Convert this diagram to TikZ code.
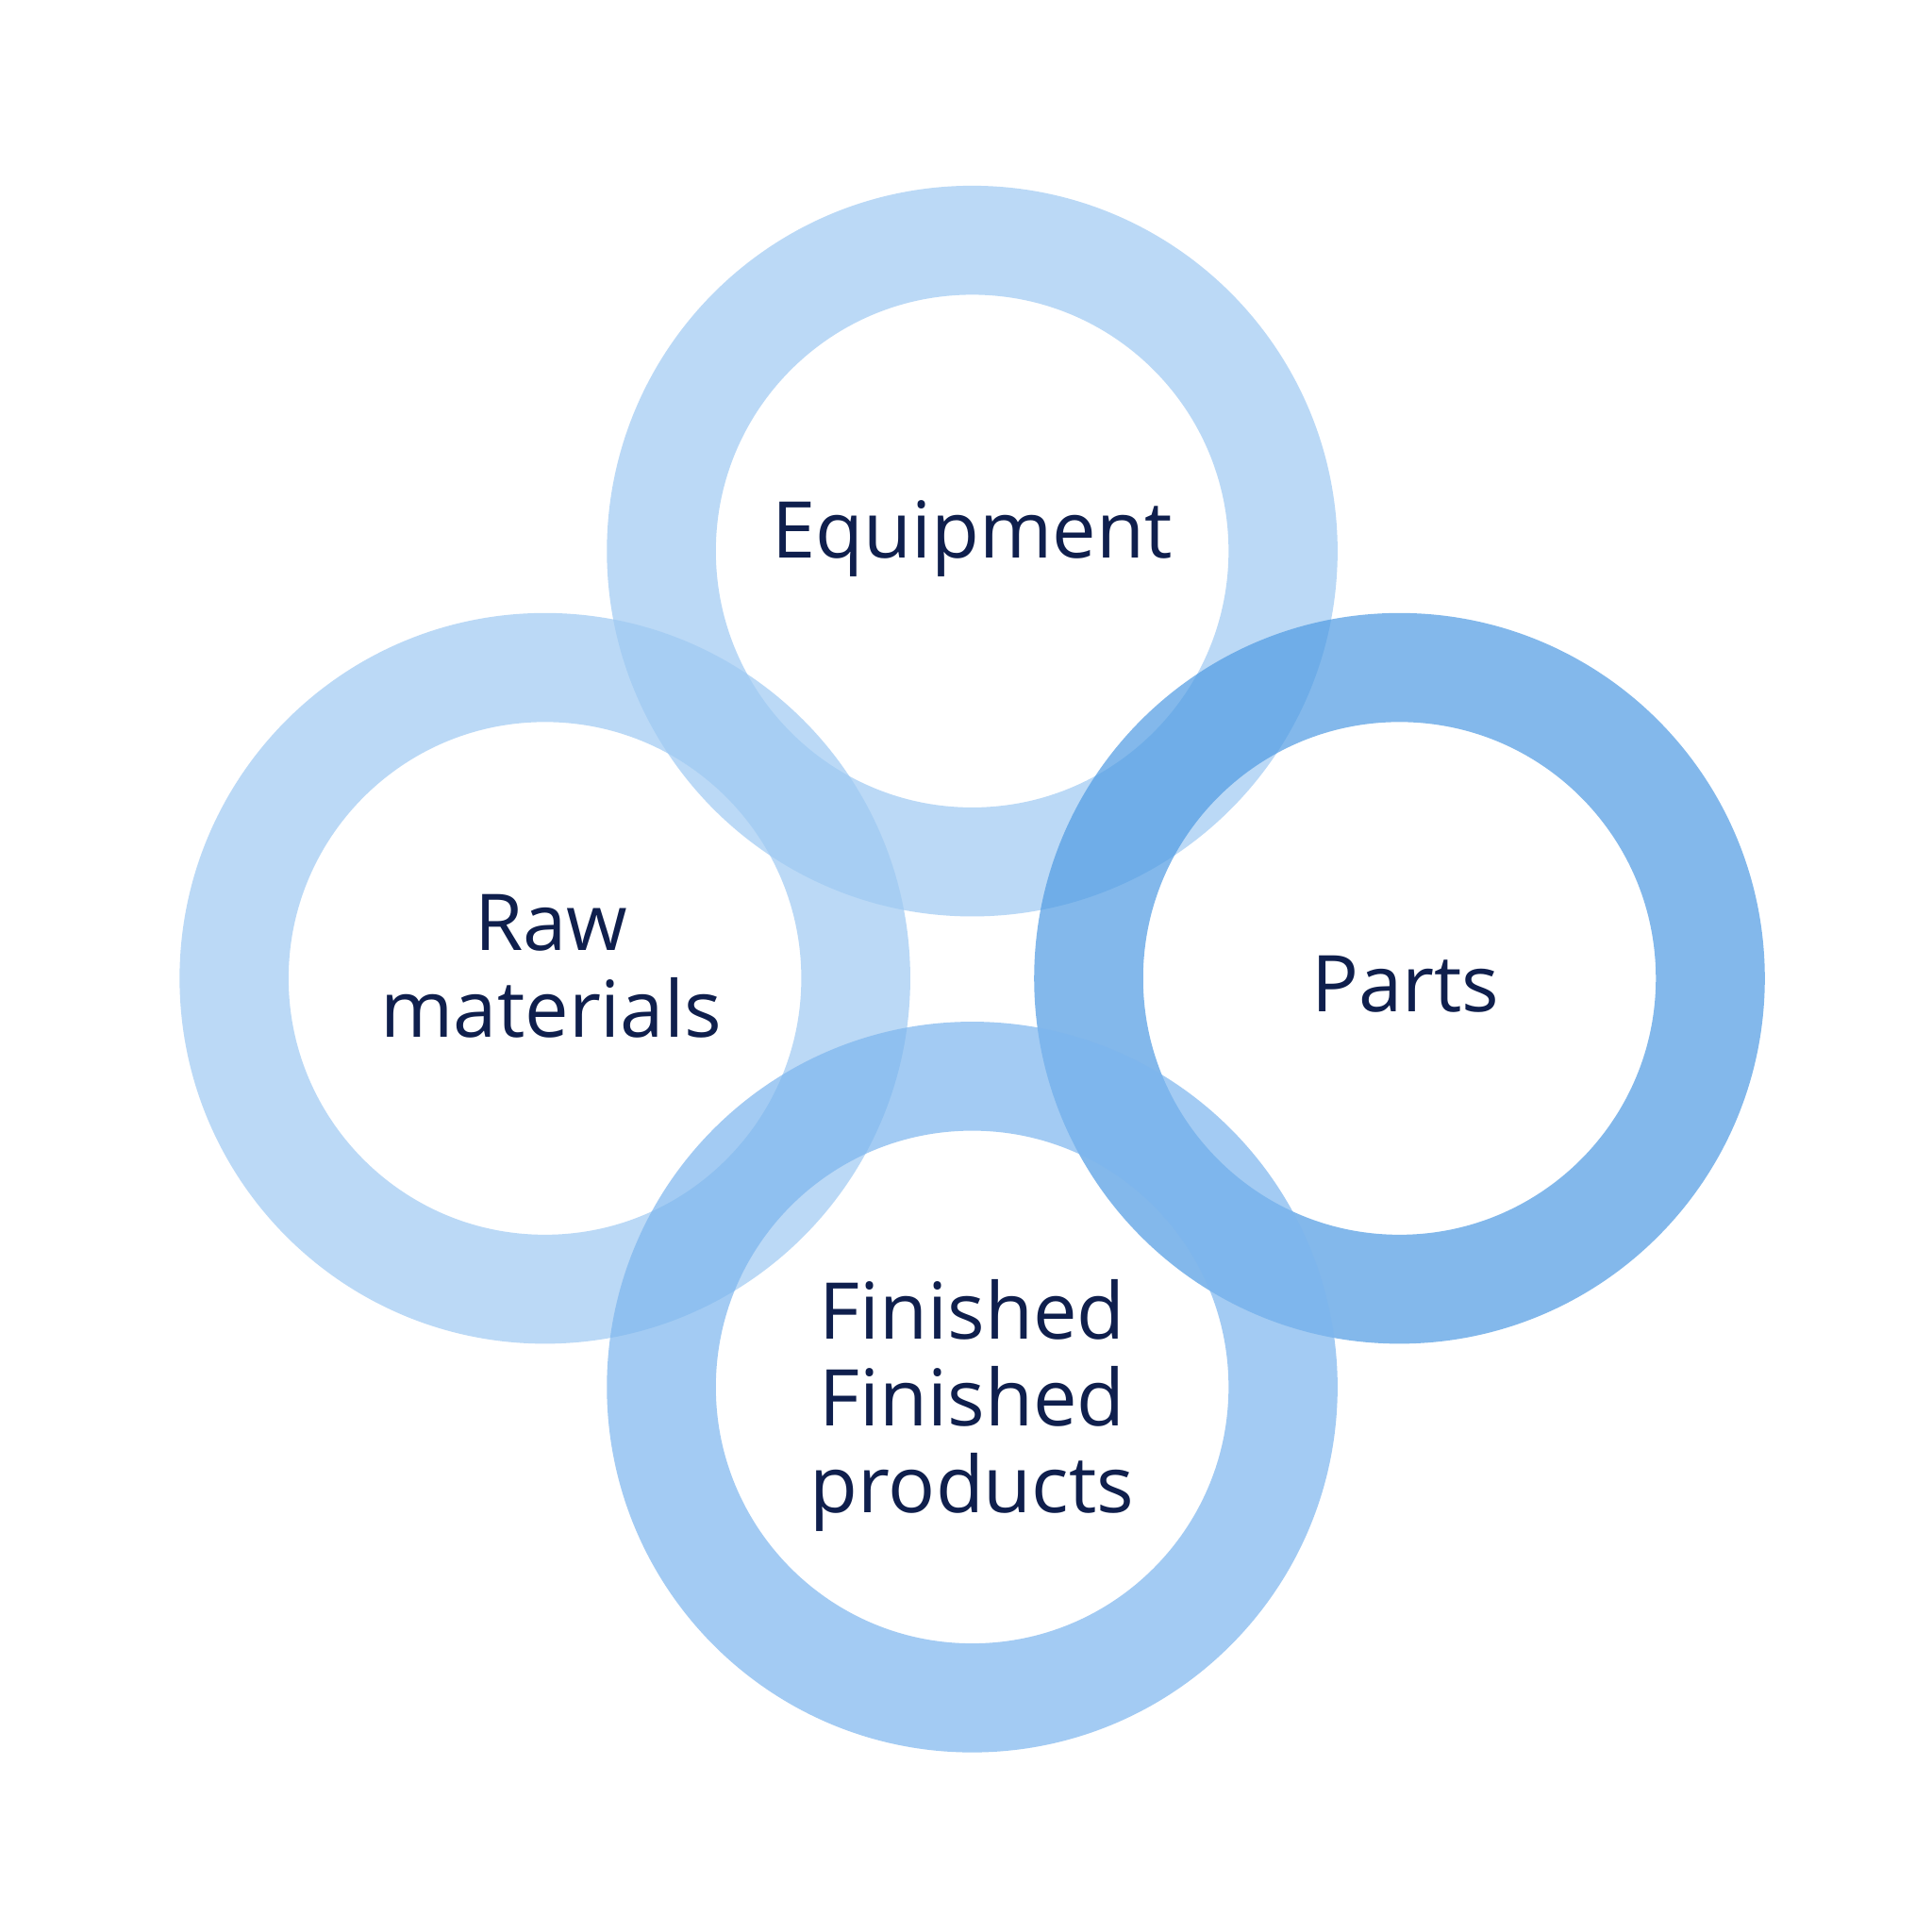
\documentclass[tikz,border=0pt]{standalone}
\usepackage{fontspec}
\setmainfont{Open Sans}
\definecolor{ringlight}{HTML}{9fcaf3}
\definecolor{ringmid}{HTML}{7db6ee}
\definecolor{ringdark}{HTML}{4f9be3}
\definecolor{labelnavy}{HTML}{0f1f4d}
\tikzset{
  ring/.style={line width=8.8mm, opacity=0.7},
  tag/.style={text=labelnavy, font=\fontsize{18}{20}\selectfont, align=center}
}
\begin{document}
\begin{tikzpicture}
        % Frame
        \useasboundingbox (0,0) rectangle (15.6,15.6);
        \fill[white] (0,0) rectangle (15.6,15.6);

        % Rings
        \coordinate (top) at (7.85,11.15);
        \coordinate (left) at (4.40,7.70);
        \coordinate (right) at (11.30,7.70);
        \coordinate (bottom) at (7.85,4.40);
        \draw[ring,ringlight] (top) circle (25.1mm);
        \draw[ring,ringlight] (left) circle (25.1mm);
        \draw[ring,ringdark] (right) circle (25.1mm);
        \draw[ring,ringmid] (bottom) circle (25.1mm);

        % Labels
        \node[tag] (equipment) at (7.85,11.25) {Equipment};
        \node[tag] (raw) at (4.45,7.80) {Raw\\materials};
        \node[tag] (parts) at (11.35,7.65) {Parts};
        \node[tag] (finished) at (7.85,4.25) {Finished\\Finished\\products};
\end{tikzpicture}
\end{document}
